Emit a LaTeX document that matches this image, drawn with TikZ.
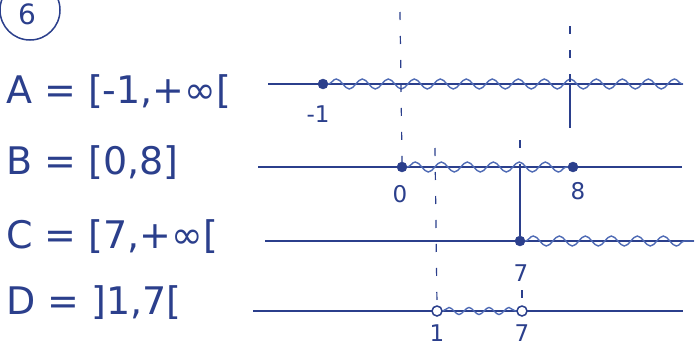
\documentclass[tikz,border=0pt]{standalone}
\usepackage{fontspec}
\setmainfont{DejaVu Sans}
\usetikzlibrary{decorations.pathmorphing}
\definecolor{ink}{HTML}{2B3F8C}
\definecolor{wave}{HTML}{4F6BB5}
\begin{document}
\begin{tikzpicture}[x=1pt,y=-1pt,
  lbl/.style={font=\fontsize{38}{42}\selectfont, text=ink, anchor=west, inner sep=0pt},
  num/.style={font=\fontsize{23}{25}\selectfont, text=ink, inner sep=0pt},
  axis/.style={draw=ink, line width=1.3pt},
  fdot/.style={circle, fill=ink, draw=ink, minimum size=10pt, inner sep=0pt},
  odot/.style={circle, draw=ink, line width=1.5pt, fill=white, minimum size=10pt, inner sep=0pt},
  wavy/.style={draw=wave, line width=1.4pt, decorate, decoration={snake, amplitude=5pt, segment length=26pt}},
  guide/.style={draw=ink, line width=1.2pt, dash pattern=on 8pt off 16pt},
  solidguide/.style={draw=ink, line width=1.2pt}
]
\useasboundingbox (0,0) rectangle (698,348);
\clip (0,0) rectangle (698,348);
\fill[white] (0,0) rectangle (698,348);

% problem number
\draw[ink, line width=1.5pt] (30,10) ellipse (30pt and 30pt);
\node[num, font=\fontsize{28}{30}\selectfont] (six) at (27,14) {6};

% set definitions
\node[lbl] (labA) at (6,92) {A = [-1,+∞[};
\node[lbl] (labB) at (6,163) {B = [0,8]};
\node[lbl] (labC) at (6,237) {C = [7,+∞[};
\node[lbl] (labD) at (6,303) {D = ]1,7[};

% number line A
\coordinate (a0) at (268,84);
\coordinate (a1) at (683,84);
\draw[axis] (a0) -- (a1);
\node[fdot] (am1) at (323,84) {};
\node[num] (tm1) at (318,114) {-1};
\draw[wavy] (am1.east) -- (a1);

% number line B
\coordinate (b0) at (258,167);
\coordinate (b1) at (682,167);
\draw[axis] (b0) -- (b1);
\node[fdot] (bz) at (402,167) {};
\node[fdot] (be) at (573,167) {};
\node[num] (tz) at (400,194) {0};
\node[num] (te) at (578,191) {8};
\draw[wavy] (bz.east) -- (be.west);

% number line C
\coordinate (c0) at (265,241);
\coordinate (c1) at (694,241);
\draw[axis] (c0) -- (c1);
\node[fdot] (cs) at (520,241) {};
\node[num] (ts) at (521,273) {7};
\draw[wavy] (cs.east) -- (c1);

% number line D
\coordinate (d0) at (253,311);
\coordinate (d1) at (683,311);
\draw[axis] (d0) -- (d1);
\node[odot] (dl) at (437,311) {};
\node[odot] (dr) at (522,311) {};
\node[num] (tl) at (437,333) {1};
\node[num] (tr) at (522,333) {7};
\draw[wavy, decoration={snake, amplitude=3.5pt, segment length=20pt}] (dl.east) -- (dr.west);

% guide lines
\coordinate (g0top) at (400,12);
\draw[guide] (g0top) -- (bz.north);
\coordinate (g8top) at (570,26);
\coordinate (a8) at (570,84);
\coordinate (g8bot) at (570,128);
\draw[guide] (g8top) -- (a8);
\draw[solidguide] (a8) -- (g8bot);
\coordinate (g7top) at (520,140);
\coordinate (b7) at (520,167);
\draw[guide] (g7top) -- (b7);
\draw[solidguide] (b7) -- (cs.north);
\coordinate (g7low) at (522,290);
\draw[guide] (g7low) -- (dr.north);
\coordinate (g1top) at (435,148);
\draw[guide] (g1top) -- (dl.north);
\end{tikzpicture}
\end{document}
